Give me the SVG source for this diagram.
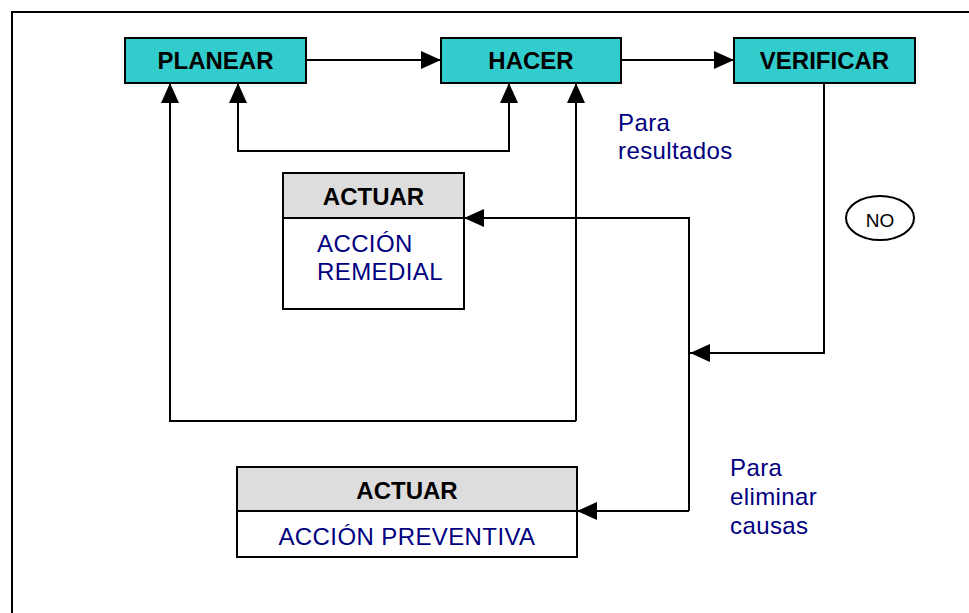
<svg xmlns="http://www.w3.org/2000/svg" width="969" height="613" viewBox="0 0 969 613">
<style>
.box{fill:#33CCCC;stroke:#000;stroke-width:2}
.hdr{fill:#DDDDDD;stroke:#000;stroke-width:2}
.body{fill:#fff;stroke:#000;stroke-width:2}
.ln{fill:none;stroke:#000;stroke-width:2}
.bt{font-family:"Liberation Sans",Arial,sans-serif;font-weight:bold;font-size:24px;fill:#000;text-anchor:middle}
.nt{font-family:"Liberation Sans",Arial,sans-serif;font-size:24px;letter-spacing:0.4px;fill:#000080}
</style>
<defs>
<marker id="ah" markerUnits="userSpaceOnUse" markerWidth="20" markerHeight="18" refX="20" refY="9" orient="auto">
<path d="M0,0 L20,9 L0,18 z" fill="#000"/>
</marker>
</defs>
<rect width="969" height="613" fill="#fff"/>
<path class="ln" d="M12,613 V12 H969"/>
<g id="connectors">
<path class="ln" d="M306,60 H441" marker-end="url(#ah)"/>
<path class="ln" d="M621,60 H734" marker-end="url(#ah)"/>
<path class="ln" d="M509,83 V151 H238 V83" marker-end="url(#ah)"/>
<path class="ln" d="M509,151 V83" marker-end="url(#ah)"/>
<path class="ln" d="M576,421 H170 V83" marker-end="url(#ah)"/>
<path class="ln" d="M576,421 V83" marker-end="url(#ah)"/>
<path class="ln" d="M824,83 V353 H690" marker-end="url(#ah)"/>
<path class="ln" d="M689,511 V218 H464" marker-end="url(#ah)"/>
<path class="ln" d="M689,511 H577" marker-end="url(#ah)"/>
</g>
<g id="planear">
<rect class="box" x="125" y="38" width="181" height="45"/>
<text class="bt" x="215.5" y="69">PLANEAR</text>
</g>
<g id="hacer">
<rect class="box" x="441" y="38" width="180" height="45"/>
<text class="bt" x="531" y="69">HACER</text>
</g>
<g id="verificar">
<rect class="box" x="734" y="38" width="181" height="45"/>
<text class="bt" x="824.5" y="69">VERIFICAR</text>
</g>
<g id="actuar1">
<rect class="body" x="283" y="173" width="181" height="136"/>
<rect class="hdr" x="283" y="173" width="181" height="45"/>
<text class="bt" x="373.5" y="205">ACTUAR</text>
<text class="nt" x="317" y="252">ACCIÓN</text>
<text class="nt" x="317" y="280">REMEDIAL</text>
</g>
<g id="actuar2">
<rect class="body" x="237" y="467" width="340" height="90"/>
<rect class="hdr" x="237" y="467" width="340" height="44"/>
<text class="bt" x="407" y="499">ACTUAR</text>
<text class="nt" x="407" y="545" text-anchor="middle">ACCIÓN PREVENTIVA</text>
</g>
<g id="no">
<ellipse cx="880" cy="218" rx="34" ry="22" fill="#fff" stroke="#000" stroke-width="2"/>
<text x="880" y="227" font-family="Liberation Sans,Arial,sans-serif" font-size="19" text-anchor="middle" fill="#000">NO</text>
</g>
<g id="label-resultados">
<text class="nt" x="618" y="131">Para</text>
<text class="nt" x="618" y="159">resultados</text>
</g>
<g id="label-causas">
<text class="nt" x="730" y="476">Para</text>
<text class="nt" x="730" y="505">eliminar</text>
<text class="nt" x="730" y="534">causas</text>
</g>
</svg>
